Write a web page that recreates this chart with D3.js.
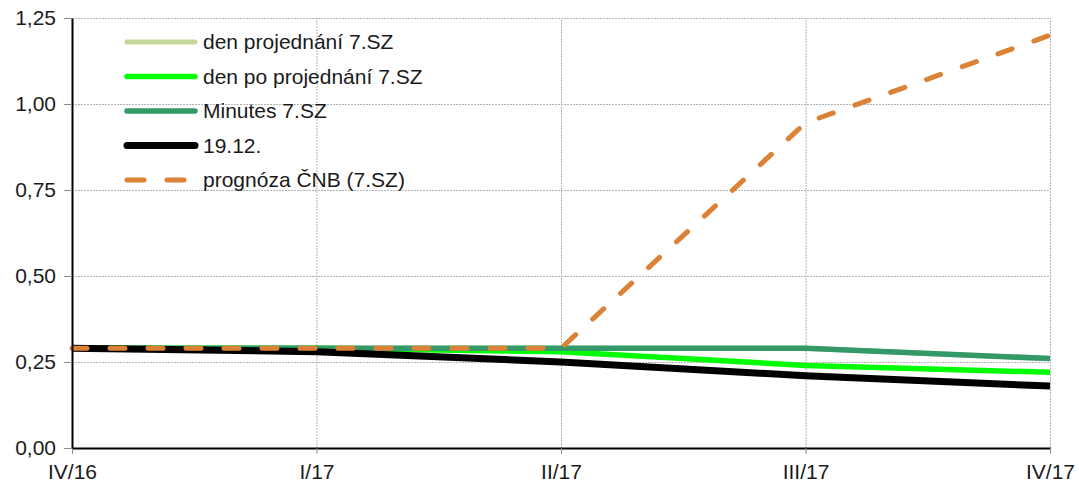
<!DOCTYPE html>
<html>
<head>
<meta charset="utf-8">
<script src="https://cdn.jsdelivr.net/npm/d3@7"></script>
<style>
  body { margin: 0; background: #fff; }
  svg { font-family: "Liberation Sans", Arial, sans-serif; }
  .grid line { stroke: #b3b3b3; stroke-dasharray: 2,1; }
  .grid path { stroke: none; }
  .axis path { stroke: #000; stroke-width: 2; }
  .axis line { stroke: #8c8c8c; }
  .axis text { font-size: 21px; fill: #1a1a1a; }
  .legend text { font-size: 21px; fill: #1a1a1a; }
</style>
</head>
<body>
<svg width="1079" height="489"></svg>
<script>
var quarters = ["IV/16", "I/17", "II/17", "III/17", "IV/17"];
var yTicks = [0, 0.25, 0.5, 0.75, 1.0, 1.25];

var denProjednani = [0.29, 0.29, 0.29, 0.29, 0.26];
var denPoProjednani = [0.29, 0.29, 0.28, 0.24, 0.22];
var minutes = [0.29, 0.29, 0.29, 0.29, 0.26];
var dec19 = [0.29, 0.28, 0.25, 0.21, 0.18];
var prognoza = [0.29, 0.29, 0.29, 0.945, 1.2];

var series = [
  {name: "den projednání 7.SZ", values: denProjednani, color: "#c4d79b", width: 5, dash: null},
  {name: "den po projednání 7.SZ", values: denPoProjednani, color: "#00ff00", width: 5.5, dash: null},
  {name: "Minutes 7.SZ", values: minutes, color: "#339966", width: 5.5, dash: null},
  {name: "19.12.", values: dec19, color: "#000000", width: 7, dash: null},
  {name: "prognóza ČNB (7.SZ)", values: prognoza, color: "#dc8236", width: 5, dash: "15,23"}
];

var margin = {top: 18, right: 29, bottom: 41, left: 72},
    width = 1079 - margin.left - margin.right,
    height = 489 - margin.top - margin.bottom;

var xScale = d3.scalePoint().domain(quarters).range([0, width]);
var yScale = d3.scaleLinear().domain([0, 1.25]).range([height, 0]);

var svg = d3.select("svg")
  .append("g")
    .attr("transform", "translate(" + margin.left + "," + margin.top + ")");

// grid
svg.append("g")
    .attr("class", "grid")
    .attr("transform", "translate(0," + height + ")")
    .call(d3.axisBottom(xScale).tickSize(-height).tickFormat(""));

svg.append("g")
    .attr("class", "grid")
    .call(d3.axisLeft(yScale).tickValues(yTicks).tickSize(-width).tickFormat(""));

// lines
var line = d3.line()
    .x(function(d, i) { return xScale(quarters[i]); })
    .y(function(d) { return yScale(d); });

series.forEach(function(s) {
  svg.append("path")
      .datum(s.values)
      .attr("fill", "none")
      .attr("stroke", s.color)
      .attr("stroke-width", s.width)
      .attr("stroke-linecap", s.dash ? "round" : "butt")
      .attr("stroke-linejoin", "round")
      .attr("stroke-dasharray", s.dash)
      .attr("d", line);
});

// axes
svg.append("g")
    .attr("class", "axis")
    .attr("transform", "translate(0," + height + ")")
    .call(d3.axisBottom(xScale).tickSize(6).tickSizeOuter(0).tickPadding(8))
  .selectAll("text")
    .attr("dy", "0.8em");

svg.append("g")
    .attr("class", "axis")
    .call(d3.axisLeft(yScale).tickValues(yTicks).tickSize(8).tickSizeOuter(0).tickPadding(8)
        .tickFormat(function(d) { return d3.format(".2f")(d).replace(".", ","); }));

// legend
var legend = svg.append("g")
    .attr("class", "legend")
    .attr("transform", "translate(53,24)");

var rows = legend.selectAll("g")
    .data(series)
  .enter().append("g")
    .attr("transform", function(d, i) { return "translate(0," + (i * 34.5) + ")"; });

rows.append("line")
    .attr("x1", 2).attr("x2", 70)
    .attr("y1", 0).attr("y2", 0)
    .attr("stroke", function(d) { return d.color; })
    .attr("stroke-width", function(d) { return d.width; })
    .attr("stroke-linecap", "round")
    .attr("stroke-dasharray", function(d) { return d.dash ? "17,23" : null; });

rows.append("text")
    .attr("x", 78)
    .attr("y", 0)
    .attr("dy", "0.35em")
    .text(function(d) { return d.name; });
</script>
</body>
</html>
